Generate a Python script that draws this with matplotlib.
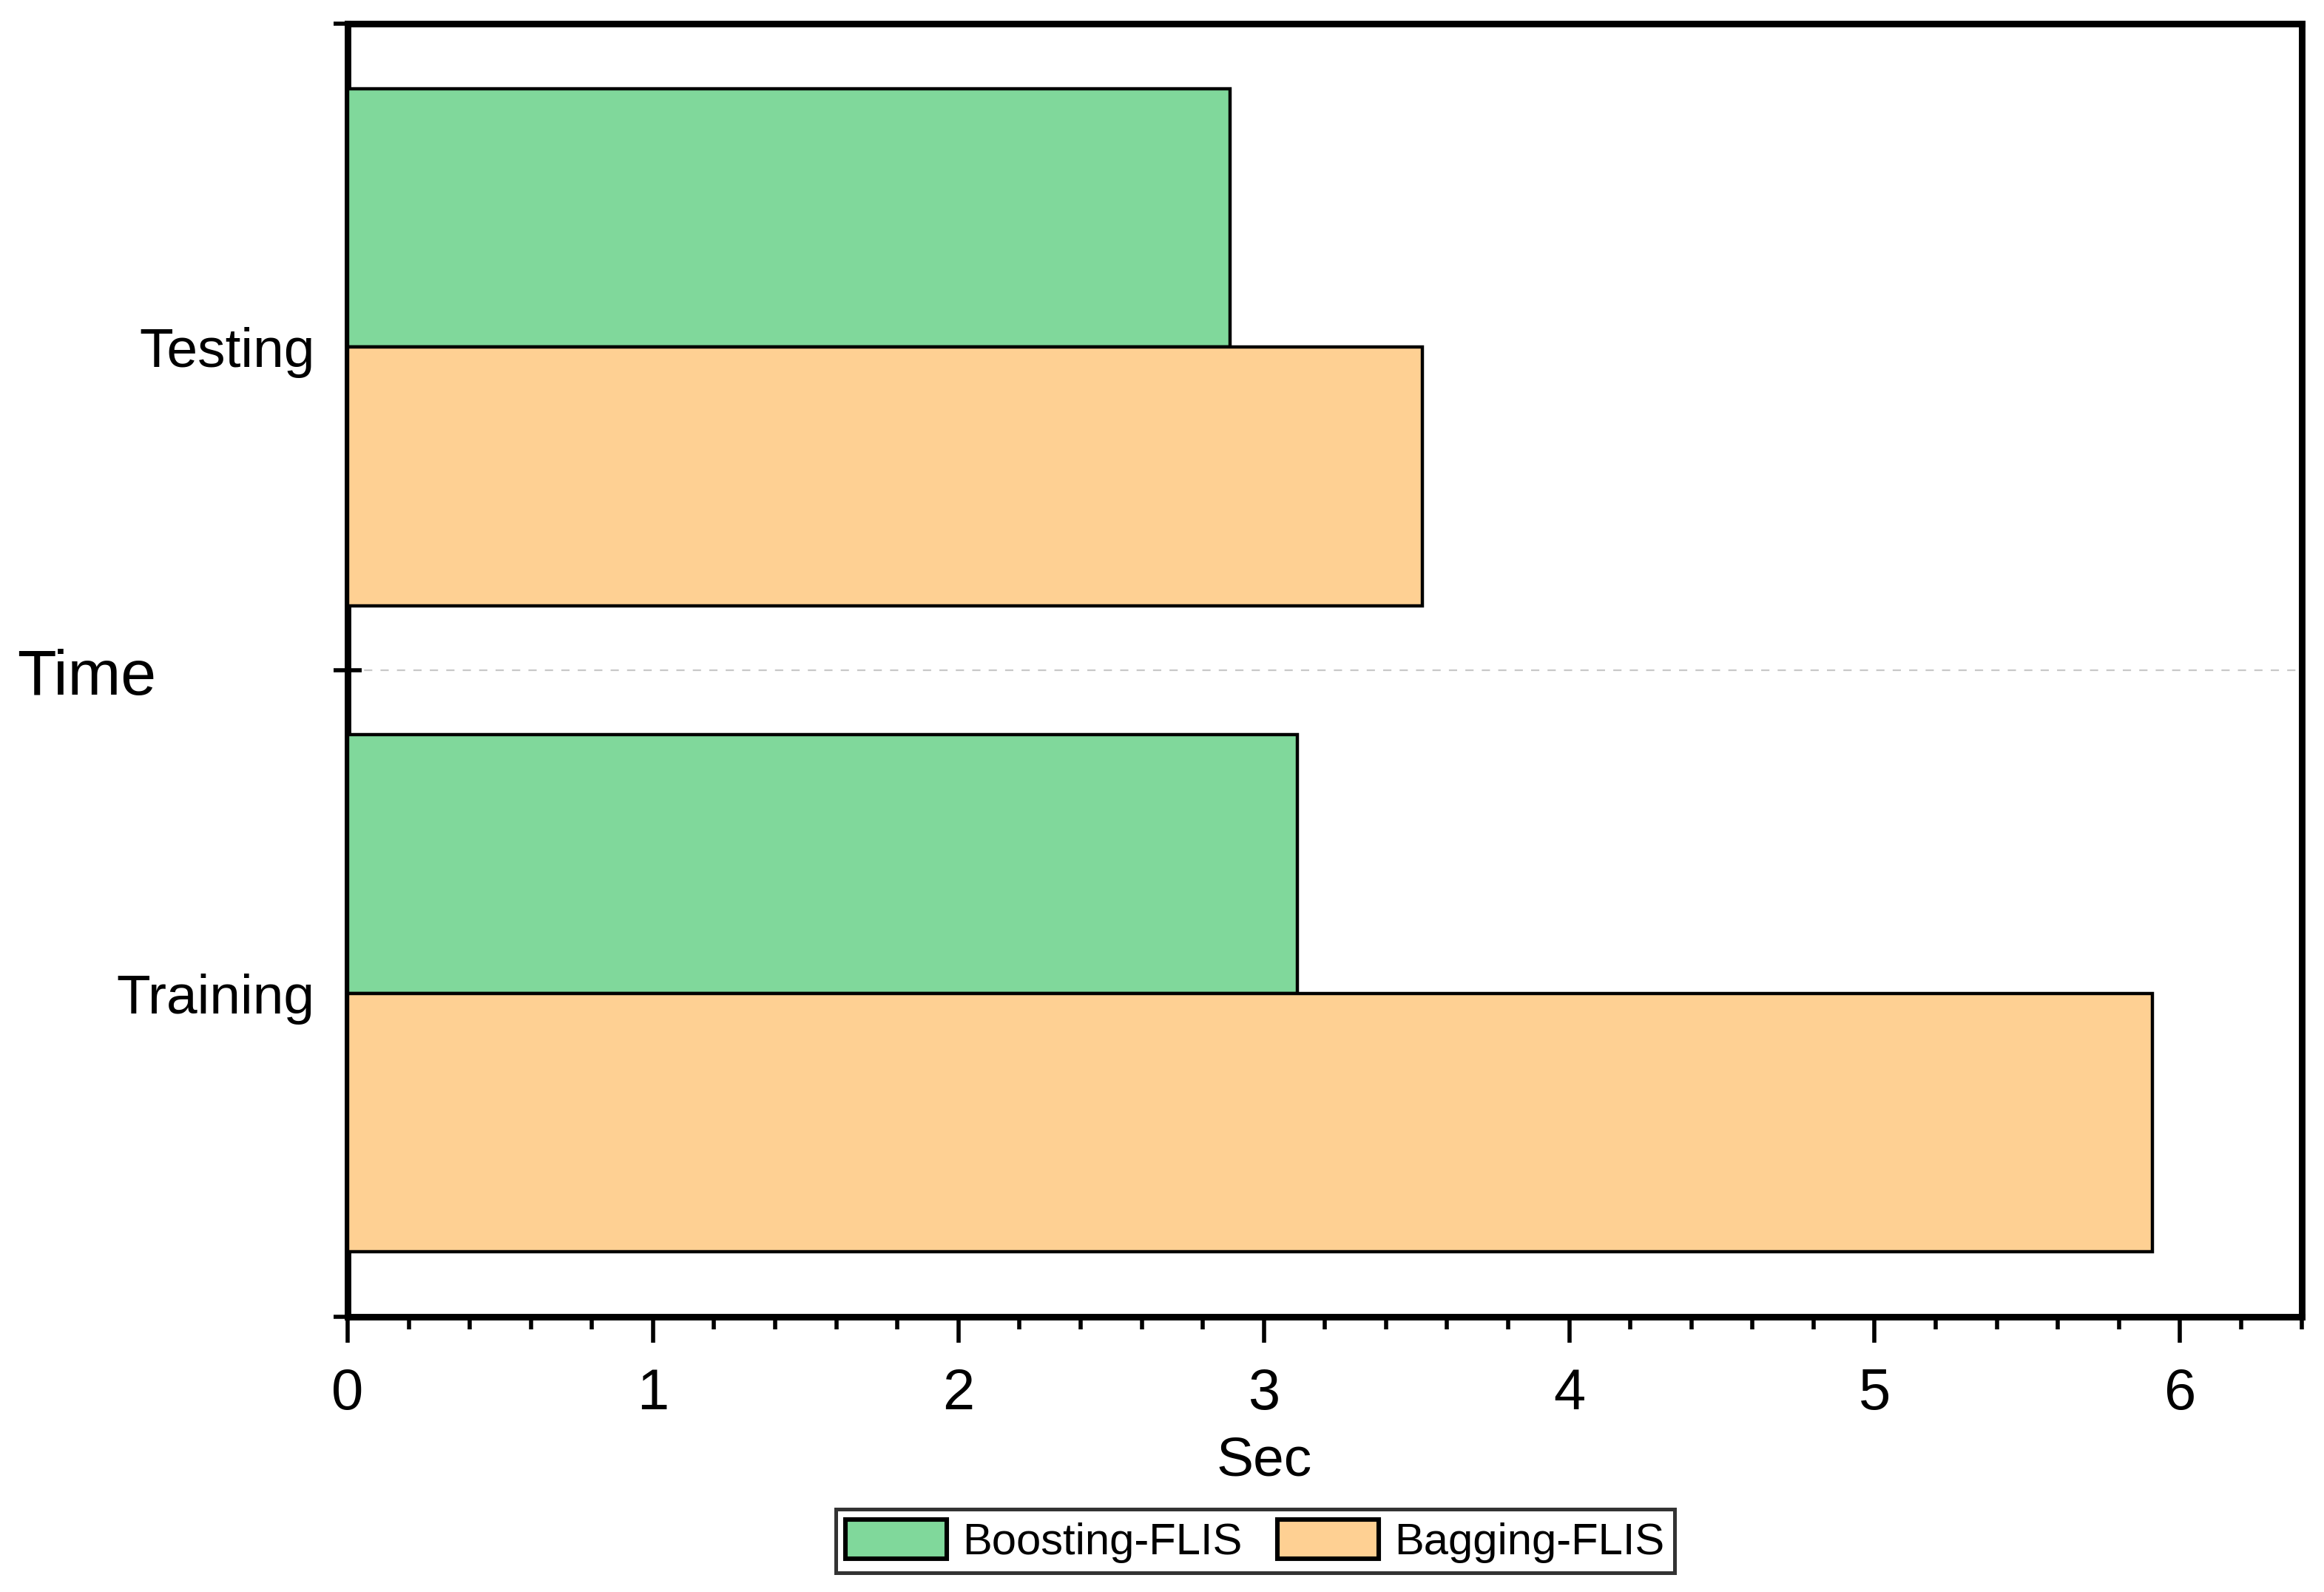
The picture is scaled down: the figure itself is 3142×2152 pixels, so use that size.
import numpy as np
import matplotlib
matplotlib.use("Agg")
import matplotlib.pyplot as plt
from matplotlib.ticker import FixedLocator, MultipleLocator

plt.rcParams['font.family'] = ['Liberation Sans', 'DejaVu Sans']

# data
phases = ['Training', 'Testing']
boosting = [3.11, 2.89]
bagging = [5.91, 3.52]
series_names = ['Boosting-FLIS', 'Bagging-FLIS']
group_label = 'Time'

green = '#80D89B'
orange = '#FED093'

fig = plt.figure(figsize=(15.71, 10.76), dpi=200)
ax = fig.add_axes([0.1496, 0.173, 0.841, 0.812])

pos = np.arange(len(phases))
h = 0.4
ax.barh(pos + h / 2, boosting, height=h, color=green, edgecolor='black',
        linewidth=1.6, label=series_names[0], zorder=3)
ax.barh(pos - h / 2, bagging, height=h, color=orange, edgecolor='black',
        linewidth=1.6, label=series_names[1], zorder=3)

ax.set_xlim(0, 6.4)
ax.set_ylim(-0.5, 1.5)

# x axis
ax.xaxis.set_major_locator(MultipleLocator(1))
ax.xaxis.set_minor_locator(MultipleLocator(0.2))
ax.tick_params(axis='x', which='major', direction='out', length=12.6,
               width=2.0, labelsize=28, pad=12)
ax.tick_params(axis='x', which='minor', direction='out', length=6.2, width=2.0)
ax.set_xlabel('Sec', fontsize=27)
ax.xaxis.set_label_coords(0.469, -0.092)

# y axis: group boundaries as major ticks, category names as minor labels
ax.yaxis.set_major_locator(FixedLocator([-0.5, 0.5, 1.5]))
ax.yaxis.set_minor_locator(FixedLocator(pos))
ax.set_yticklabels(['', '', ''])
ax.set_yticklabels(phases, minor=True)
ax.tick_params(axis='y', which='major', direction='inout', length=13.7, width=2.0)
ax.tick_params(axis='y', which='minor', length=0, labelsize=27, pad=16)
ax.yaxis.grid(True, which='major', linestyle=(0, (5, 5)), color='#c8c8c8',
              linewidth=0.8, zorder=0)
ax.annotate(group_label, xy=(-0.098, 0.5), xycoords=ax.get_yaxis_transform(),
            xytext=(0, -12), textcoords='offset points',
            ha='right', va='baseline', fontsize=31)

for s in ax.spines.values():
    s.set_linewidth(3.2)

leg = fig.legend(loc='center', bbox_to_anchor=(0.540, 0.032), ncol=2,
                 fontsize=21.5, frameon=True, fancybox=False, edgecolor='black',
                 handlelength=2.3, handleheight=1.0, handletextpad=0.35,
                 columnspacing=0.8, borderpad=0.22, borderaxespad=0)
leg.get_frame().set_linewidth(1.8)
for p in leg.get_patches():
    p.set_linewidth(2.2)

fig.savefig('out.png', dpi=200)
